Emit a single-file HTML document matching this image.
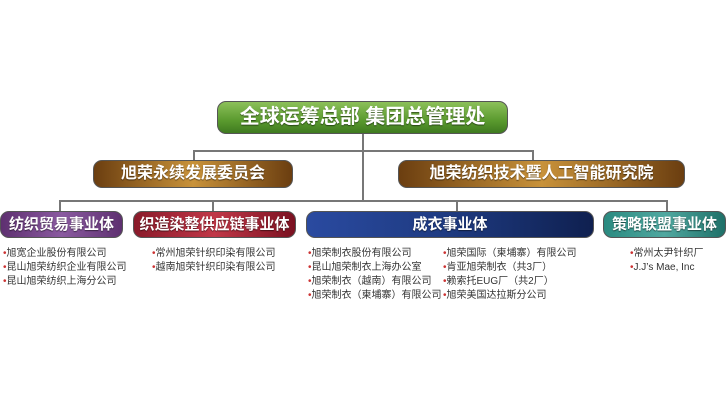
<!DOCTYPE html>
<html><head><meta charset="utf-8"><style>
body{margin:0;width:726px;height:400px;background:#fff;position:relative;overflow:hidden;font-family:"Liberation Sans","Noto Sans CJK SC",sans-serif}
.b{position:absolute;border-radius:9px;color:#fff;text-align:center;font-weight:600;border:1px solid #555;box-sizing:border-box;text-shadow:0 1px 1px rgba(0,0,0,.5)}
.l{position:absolute;background:#777}
.t{position:absolute;font-size:10px;line-height:14px;color:#333;white-space:nowrap}
.t span{color:#c33}
</style></head><body>
<div class="b" style="left:217px;top:101px;width:291px;height:33px;line-height:31px;font-size:20px;background:linear-gradient(#8cc05a,#5a9a2e 60%,#3f7a20)">全球运筹总部 集团总管理处</div>
<div class="l" style="left:193px;top:150px;width:340px;height:2px"></div>
<div class="l" style="left:193px;top:150px;width:2px;height:10px"></div>
<div class="l" style="left:532px;top:150px;width:2px;height:10px"></div>
<div class="b" style="left:93px;top:160px;width:200px;height:28px;line-height:26px;font-size:16px;background:linear-gradient(90deg,#6b3e10,#c8923a 50%,#6b3e10)">旭荣永续发展委员会</div>
<div class="b" style="left:398px;top:160px;width:287px;height:28px;line-height:26px;font-size:16px;background:linear-gradient(90deg,#6b3e10,#c8923a 50%,#6b3e10)">旭荣纺织技术暨人工智能研究院</div>
<div class="l" style="left:362px;top:134px;width:2px;height:66px"></div>
<div class="l" style="left:59px;top:200px;width:608px;height:2px"></div>
<div class="l" style="left:59px;top:200px;width:2px;height:11px"></div>
<div class="l" style="left:212px;top:200px;width:2px;height:11px"></div>
<div class="l" style="left:456px;top:200px;width:2px;height:11px"></div>
<div class="l" style="left:666px;top:200px;width:2px;height:11px"></div>
<div class="b" style="left:0;top:211px;width:123px;height:27px;line-height:25px;font-size:15px;background:linear-gradient(90deg,#5e3070,#8a5aa0 50%,#5e3070)">纺织贸易事业体</div>
<div class="b" style="left:133px;top:211px;width:163px;height:27px;line-height:25px;font-size:15px;background:linear-gradient(90deg,#8a1a2a,#c03848 50%,#7a1020)">织造染整供应链事业体</div>
<div class="b" style="left:306px;top:211px;width:288px;height:27px;line-height:25px;font-size:15px;background:linear-gradient(90deg,#2a4aa0,#1e3a80 50%,#0f2050)">成衣事业体</div>
<div class="b" style="left:603px;top:211px;width:123px;height:27px;line-height:25px;font-size:15px;background:linear-gradient(90deg,#2a8a80,#50a8a0 50%,#1e7068)">策略联盟事业体</div>
<div class="t" style="left:3px;top:247px"><span>•</span>旭宽企业股份有限公司<br><span>•</span>昆山旭荣纺织企业有限公司<br><span>•</span>昆山旭荣纺织上海分公司</div>
<div class="t" style="left:152px;top:247px"><span>•</span>常州旭荣针织印染有限公司<br><span>•</span>越南旭荣针织印染有限公司</div>
<div class="t" style="left:308px;top:247px"><span>•</span>旭荣制衣股份有限公司<br><span>•</span>昆山旭荣制衣上海办公室<br><span>•</span>旭荣制衣（越南）有限公司<br><span>•</span>旭荣制衣（柬埔寨）有限公司</div>
<div class="t" style="left:443px;top:247px"><span>•</span>旭荣国际（柬埔寨）有限公司<br><span>•</span>肯亚旭荣制衣（共3厂）<br><span>•</span>赖索托EUG厂（共2厂）<br><span>•</span>旭荣美国达拉斯分公司</div>
<div class="t" style="left:630px;top:247px"><span>•</span>常州太尹针织厂<br><span>•</span>J.J’s Mae, Inc</div>
</body></html>
